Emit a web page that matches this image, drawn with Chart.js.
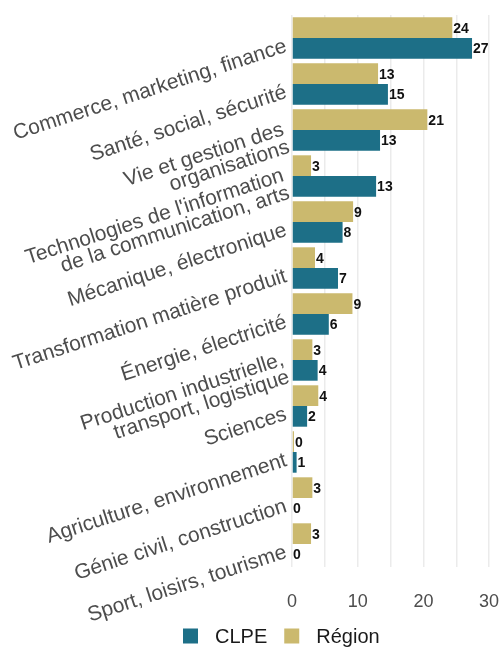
<!DOCTYPE html>
<html>
<head>
<meta charset="utf-8">
<script src="https://cdn.jsdelivr.net/npm/chart.js@4/dist/chart.umd.min.js"></script>
<style>
  html, body { margin: 0; padding: 0; background: #fff; }
  canvas { display: block; }
</style>
</head>
<body>
<canvas id="chart" width="501" height="648"></canvas>
<script>
'use strict';

/* ── Data ─────────────────────────────────────────────────── */
const categories = [
  ['Commerce, marketing, finance'],
  ['Santé, social, sécurité'],
  ['Vie et gestion des', 'organisations'],
  ["Technologies de l'information", 'de la communication, arts'],
  ['Mécanique, électronique'],
  ['Transformation matière produit'],
  ['Énergie, électricité'],
  ['Production industrielle,', 'transport, logistique'],
  ['Sciences'],
  ['Agriculture, environnement'],
  ['Génie civil, construction'],
  ['Sport, loisirs, tourisme'],
];
const regionValues = [24.4, 13.1, 20.6, 2.9, 9.3, 3.5, 9.2, 3.1, 4.0, 0.3, 3.1, 2.9];
const clpeValues   = [27.4, 14.6, 13.4, 12.8, 7.7, 7.0, 5.6, 3.9, 2.3, 0.7, 0, 0];
const xTickLabels  = ['0', '10', '20', '30'];

const COL_REGION = '#CBB96E';
const COL_CLPE   = '#1D6F87';
const FONT       = '"Liberation Sans", Arial, sans-serif';
const X_MAX      = 31.2;

/* ── Rotated category labels on the left ──────────────────── */
const rotatedLabels = {
  id: 'rotatedLabels',
  afterDraw(ch) {
    const ys  = ch.scales.y;
    const ctx = ch.ctx;
    const lh  = 18.5;
    ctx.save();
    ctx.font = '21px ' + FONT;
    ctx.fillStyle = '#4d4d4d';
    ctx.textAlign = 'right';
    ctx.textBaseline = 'middle';
    categories.forEach((lines, i) => {
      const y = ys.getPixelForValue(i);
      ctx.save();
      ctx.translate(286, y + 8);
      ctx.rotate(-18 * Math.PI / 180);
      lines.forEach((ln, k) => {
        ctx.fillText(ln, 0, (k - (lines.length - 1) / 2) * lh);
      });
      ctx.restore();
    });
    ctx.restore();
  }
};

/* ── Value labels at bar ends ─────────────────────────────── */
const valueLabels = {
  id: 'valueLabels',
  afterDatasetsDraw(ch) {
    const ctx = ch.ctx;
    ctx.save();
    ctx.font = 'bold 14px ' + FONT;
    ctx.fillStyle = '#111';
    ctx.textAlign = 'left';
    ctx.textBaseline = 'middle';
    ch.data.datasets.forEach((ds, di) => {
      const meta = ch.getDatasetMeta(di);
      meta.data.forEach((bar, i) => {
        ctx.fillText(String(Math.round(ds.data[i])), bar.x + 1, bar.y + 1);
      });
    });
    ctx.restore();
  }
};

/* ── Legend (CLPE first, as in the source) ────────────────── */
const bottomLegend = {
  id: 'bottomLegend',
  afterDraw(ch) {
    const ctx = ch.ctx;
    const items = [ch.data.datasets[1], ch.data.datasets[0]];
    const cy = 637, box = 15, gap = 17;
    let x = 183;
    ctx.save();
    ctx.font = '20px ' + FONT;
    ctx.textBaseline = 'middle';
    ctx.textAlign = 'left';
    items.forEach(ds => {
      ctx.fillStyle = ds.backgroundColor;
      ctx.fillRect(x, cy - box / 2 - 1, box, box);
      x += box + gap;
      ctx.fillStyle = '#1a1a1a';
      ctx.fillText(ds.label, x, cy);
      x += ctx.measureText(ds.label).width + gap;
    });
    ctx.restore();
  }
};

new Chart(document.getElementById('chart').getContext('2d'), {
  type: 'bar',
  data: {
    labels: categories.map(l => l.join(' ')),
    datasets: [
      { label: 'Région', data: regionValues, backgroundColor: COL_REGION },
      { label: 'CLPE',   data: clpeValues,   backgroundColor: COL_CLPE },
    ]
  },
  plugins: [rotatedLabels, valueLabels, bottomLegend],
  options: {
    indexAxis: 'y',
    responsive: false,
    animation: false,
    layout: { padding: { top: 15, right: 4, left: 0, bottom: 35 } },
    datasets: { bar: { categoryPercentage: 0.9, barPercentage: 1.0 } },
    plugins: {
      tooltip: { enabled: false },
      legend: { display: false }
    },
    scales: {
      y: {
        type: 'category',
        ticks: { display: false },
        grid: { display: false },
        border: { display: false },
        afterFit: s => { s.width = 292; }
      },
      x: {
        min: 0,
        max: X_MAX,
        afterFit: s => { s.paddingLeft = 0; s.paddingRight = 0; s.height = 46; },
        ticks: {
          stepSize: 5,
          includeBounds: false,
          autoSkip: false,
          maxRotation: 0,
          padding: 24,
          color: '#4d4d4d',
          font: { size: 18, family: FONT },
          callback: v => (v % 10 === 0 ? xTickLabels[v / 10] : '')
        },
        grid: { color: '#ebebeb', lineWidth: 1.5, drawTicks: false },
        border: { display: false }
      }
    }
  }
});
</script>
</body>
</html>
